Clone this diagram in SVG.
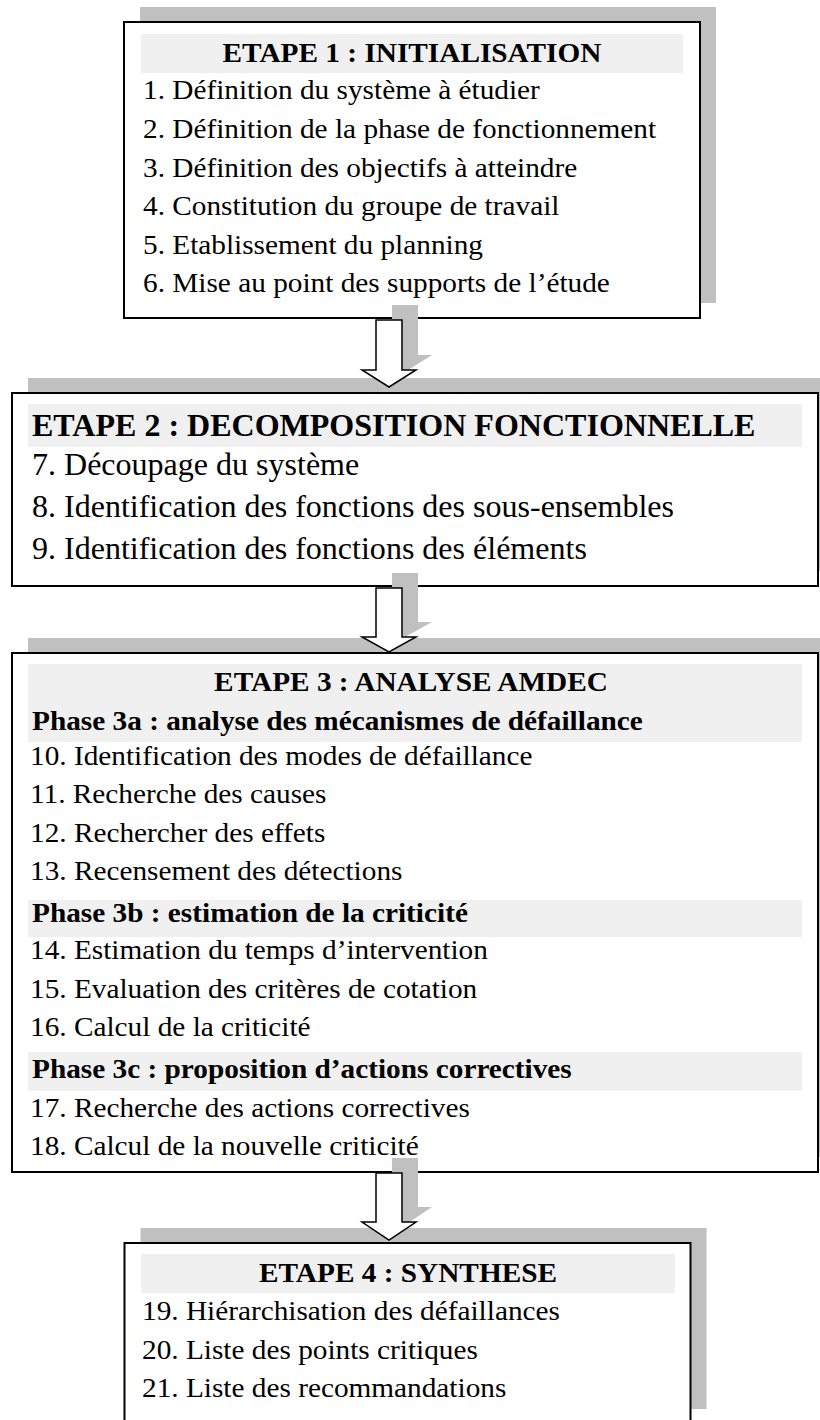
<svg xmlns="http://www.w3.org/2000/svg" width="820" height="1420" viewBox="0 0 820 1420">
<defs>
<style>
.shadow{fill:#c0c0c0}
.box{fill:#fff;stroke:#000;stroke-width:2}
.band{fill:#f0f0f0}
.t{font-family:"Liberation Serif","Times New Roman",serif;font-size:27.9px;fill:#000}
.b{font-weight:bold}
.L{font-size:30.5px}
.c{text-anchor:middle}
.arrow{fill:#fff;stroke:#000;stroke-width:1.5;stroke-linejoin:miter}
</style>
</defs>
<rect width="820" height="1420" fill="#fff"/>

<g id="step1">
<rect class="shadow" x="140" y="7" width="576" height="296"/>
<rect class="box" x="124" y="22" width="576" height="296"/>
<rect class="band" x="141" y="34" width="542" height="39"/>
<text class="t b c" transform="matrix(1.05 0 0 1 412 62)">ETAPE 1 : INITIALISATION</text>
<text class="t" transform="matrix(1.05 0 0 1 143 99)">1. Définition du système à étudier</text>
<text class="t" transform="matrix(1.05 0 0 1 143 138)">2. Définition de la phase de fonctionnement</text>
<text class="t" transform="matrix(1.05 0 0 1 143 176.5)">3. Définition des objectifs à atteindre</text>
<text class="t" transform="matrix(1.05 0 0 1 143 215)">4. Constitution du groupe de travail</text>
<text class="t" transform="matrix(1.05 0 0 1 143 253.5)">5. Etablissement du planning</text>
<text class="t" transform="matrix(1.05 0 0 1 143 292)">6. Mise au point des supports de l’étude</text>
</g>

<g id="step2">
<rect class="shadow" x="28" y="378" width="806" height="193"/>
<rect class="box" x="12" y="393" width="806" height="193"/>
<rect class="band" x="28" y="404" width="774" height="43"/>
<text class="t b L" transform="matrix(1.05 0 0 1 32 436)">ETAPE 2 : DECOMPOSITION FONCTIONNELLE</text>
<text class="t L" transform="matrix(1.05 0 0 1 32 475)">7. Découpage du système</text>
<text class="t L" transform="matrix(1.05 0 0 1 32 517)">8. Identification des fonctions des sous-ensembles</text>
<text class="t L" transform="matrix(1.05 0 0 1 32 559)">9. Identification des fonctions des éléments</text>
</g>

<g id="step3">
<rect class="shadow" x="28" y="638" width="806" height="519"/>
<rect class="box" x="12" y="653" width="806" height="519"/>
<rect class="band" x="28" y="664" width="774" height="78"/>
<rect class="band" x="28" y="900" width="774" height="37"/>
<rect class="band" x="28" y="1052" width="774" height="39"/>
<text class="t b c" transform="matrix(1.05 0 0 1 411 691)">ETAPE 3 : ANALYSE AMDEC</text>
<text class="t b" transform="matrix(1.05 0 0 1 32 730)">Phase 3a : analyse des mécanismes de défaillance</text>
<text class="t" transform="matrix(1.05 0 0 1 30 764.5)">10. Identification des modes de défaillance</text>
<text class="t" transform="matrix(1.05 0 0 1 30 803)">11. Recherche des causes</text>
<text class="t" transform="matrix(1.05 0 0 1 30 841.5)">12. Rechercher des effets</text>
<text class="t" transform="matrix(1.05 0 0 1 30 880)">13. Recensement des détections</text>
<text class="t b" transform="matrix(1.05 0 0 1 32 921.5)">Phase 3b : estimation de la criticité</text>
<text class="t" transform="matrix(1.05 0 0 1 30 959)">14. Estimation du temps d’intervention</text>
<text class="t" transform="matrix(1.05 0 0 1 30 997.5)">15. Evaluation des critères de cotation</text>
<text class="t" transform="matrix(1.05 0 0 1 30 1036)">16. Calcul de la criticité</text>
<text class="t b" transform="matrix(1.05 0 0 1 32 1078)">Phase 3c : proposition d’actions correctives</text>
<text class="t" transform="matrix(1.05 0 0 1 30 1116.5)">17. Recherche des actions correctives</text>
<text class="t" transform="matrix(1.05 0 0 1 30 1155)">18. Calcul de la nouvelle criticité</text>
</g>

<g id="step4">
<rect class="shadow" x="140.5" y="1228" width="566" height="181"/>
<rect class="box" x="124.5" y="1243" width="566" height="181"/>
<rect class="band" x="141" y="1254" width="534" height="39"/>
<text class="t b c" transform="matrix(1.05 0 0 1 408 1282)">ETAPE 4 : SYNTHESE</text>
<text class="t" transform="matrix(1.05 0 0 1 142 1320)">19. Hiérarchisation des défaillances</text>
<text class="t" transform="matrix(1.05 0 0 1 142 1358.5)">20. Liste des points critiques</text>
<text class="t" transform="matrix(1.05 0 0 1 142 1397)">21. Liste des recommandations</text>
</g>

<g id="connectors">
<path class="shadow" transform="translate(16,-15)" d="M376,320 H402 V370 H416 L389,387 L362,370 H376 Z"/>
<path class="arrow" d="M376,320 H402 V370 H416 L389,387 L362,370 H376 Z"/>
<path class="shadow" transform="translate(16,-15)" d="M376,588 H402 V637 H416 L389,652 L362,637 H376 Z"/>
<path class="arrow" d="M376,588 H402 V637 H416 L389,652 L362,637 H376 Z"/>
<path class="shadow" transform="translate(16,-15)" d="M376,1173 H402 V1222 H416 L389,1240 L362,1222 H376 Z"/>
<path class="arrow" d="M376,1173 H402 V1222 H416 L389,1240 L362,1222 H376 Z"/>
</g>
</svg>
